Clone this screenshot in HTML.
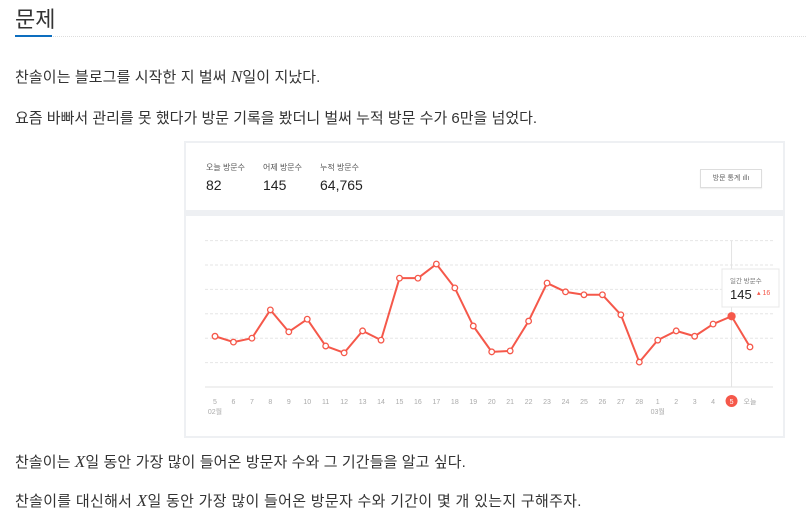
<!DOCTYPE html>
<html><head><meta charset="utf-8">
<style>
*{margin:0;padding:0;box-sizing:border-box}
body{width:806px;height:528px;background:#fff;font-family:"Liberation Sans","Noto Sans CJK KR",sans-serif;color:#333;position:relative;overflow:hidden}
.abs{position:absolute}
h2{position:absolute;left:15px;top:2px;font-size:22px;font-weight:normal;color:#333}
.rule{position:absolute;left:15px;top:36px;width:791px;border-top:1px dotted #ddd}
.rule-b{position:absolute;left:15px;top:35px;width:37px;height:2px;background:#0d6ebf}
p{position:absolute;left:15px;font-size:15px;color:#333;white-space:nowrap}
i.m{font-family:"Liberation Serif",serif;font-style:italic;font-size:17px}
</style></head><body>
<h2>문제</h2>
<div class="rule"></div>
<div class="rule-b"></div>
<p style="top:66px;letter-spacing:0.1px">찬솔이는 블로그를 시작한 지 벌써 <i class="m">N</i>일이 지났다.</p>
<p style="top:107px">요즘 바빠서 관리를 못 했다가 방문 기록을 봤더니 벌써 누적 방문 수가 6만을 넘었다.</p>
<p style="top:451px;letter-spacing:0.1px">찬솔이는 <i class="m">X</i>일 동안 가장 많이 들어온 방문자 수와 그 기간들을 알고 싶다.</p>
<p style="top:490px;letter-spacing:0.3px">찬솔이를 대신해서 <i class="m">X</i>일 동안 가장 많이 들어온 방문자 수와 기간이 몇 개 있는지 구해주자.</p>

<div class="abs" style="left:184px;top:141px;width:601px;height:297px;background:#eef0f3"></div>
<div class="abs" style="left:186px;top:143px;width:597px;height:67px;background:#fff">
  <div class="abs" style="left:20px;top:19px;font-size:8px;color:#555">오늘 방문수</div>
  <div class="abs" style="left:20px;top:34px;font-size:14px;color:#222">82</div>
  <div class="abs" style="left:77px;top:19px;font-size:8px;color:#555">어제 방문수</div>
  <div class="abs" style="left:77px;top:34px;font-size:14px;color:#222">145</div>
  <div class="abs" style="left:134px;top:19px;font-size:8px;color:#555">누적 방문수</div>
  <div class="abs" style="left:134px;top:34px;font-size:14px;color:#222">64,765</div>
  <div class="abs" style="left:514px;top:26px;width:62px;height:19px;border:1px solid #ddd;font-size:7px;color:#666;line-height:17px;text-align:center;box-shadow:0 1px 1px #eee">방문 통계 ıllı</div>
</div>
<div class="abs" style="left:186px;top:216px;width:597px;height:220px;background:#fff"></div>
<svg class="abs" style="left:0;top:0" width="806" height="528" id="chart"></svg>

<script>
const labels=["5","6","7","8","9","10","11","12","13","14","15","16","17","18","19","20","21","22","23","24","25","26","27","28","1","2","3","4","5","오늘"];
const visits=[104,92,100,158,113,139,84,70,115,96,223,223,252,203,125,72,74,135,213,195,189,189,148,51,96,115,104,129,145,82];
const gridValues=[50,100,150,200,250,300];
const NS="http://www.w3.org/2000/svg";
const svg=document.getElementById('chart');
const x0=215,x1=750,yBase=387,pxPer=24.4/50;
const xs=i=>x0+i*(x1-x0)/(labels.length-1);
const ys=v=>yBase-v*pxPer;
function mk(t,a){const e=document.createElementNS(NS,t);for(const k in a)e.setAttribute(k,a[k]);svg.appendChild(e);return e;}
gridValues.forEach(v=>{
 const g=mk('line',{x1:205,x2:773,y1:ys(v),y2:ys(v),stroke:'#e6e6e6','stroke-dasharray':'3,2'});
 
 
});
const base=mk('line',{x1:205,x2:773,y1:yBase,y2:yBase,stroke:'#e2e2e2'});


const sel=labels.length-2;
const vl=mk('line',{x1:xs(sel),x2:xs(sel),y1:ys(300),y2:yBase,stroke:'#e2e2e2'});


const line=mk('polyline',{points:visits.map((v,i)=>xs(i)+','+ys(v)).join(' '),fill:'none',stroke:'#f5584a','stroke-width':2,'stroke-linejoin':'round'});


visits.forEach((v,i)=>{
 const c=mk('circle',{cx:xs(i),cy:ys(v),r:i==sel?3.5:2.8,fill:i==sel?'#f5584a':'#fff',stroke:'#f5584a','stroke-width':1.3});
 
 
});
labels.forEach((l,i)=>{
 if(i==sel){const c=mk('circle',{cx:xs(i),cy:401,r:6,fill:'#f5584a'});
  
  }
 const t=mk('text',{x:xs(i),y:404,'font-size':7,'text-anchor':'middle',fill:i==sel?'#fff':'#aaa','font-family':'Liberation Sans, Noto Sans CJK KR, sans-serif'});
 t.textContent=l;
 
 
});
[[0,'02월'],[24,'03월']].forEach(([i,m])=>{
 const t=mk('text',{x:xs(i),y:414,'font-size':7,'text-anchor':'middle',fill:'#aaa','font-family':'Liberation Sans, Noto Sans CJK KR, sans-serif'});
 t.textContent=m;
 
 
});
const tb=mk('rect',{x:722,y:269,width:57,height:38,fill:'#fff',stroke:'#e8e8e8'});


const t1=mk('text',{x:730,y:283,'font-size':6.5,fill:'#777','font-family':'Liberation Sans, Noto Sans CJK KR, sans-serif'});
t1.textContent='일간 방문수';


const t2=mk('text',{x:730,y:299,'font-size':13,fill:'#222','font-family':'Liberation Sans, sans-serif'});
t2.textContent=visits[sel];


const t3=mk('text',{x:757,y:295,'font-size':7,fill:'#f5584a','font-family':'Liberation Sans, sans-serif'});
t3.textContent='▴ '+(visits[sel]-visits[sel-1]);


</script>
</body></html>
